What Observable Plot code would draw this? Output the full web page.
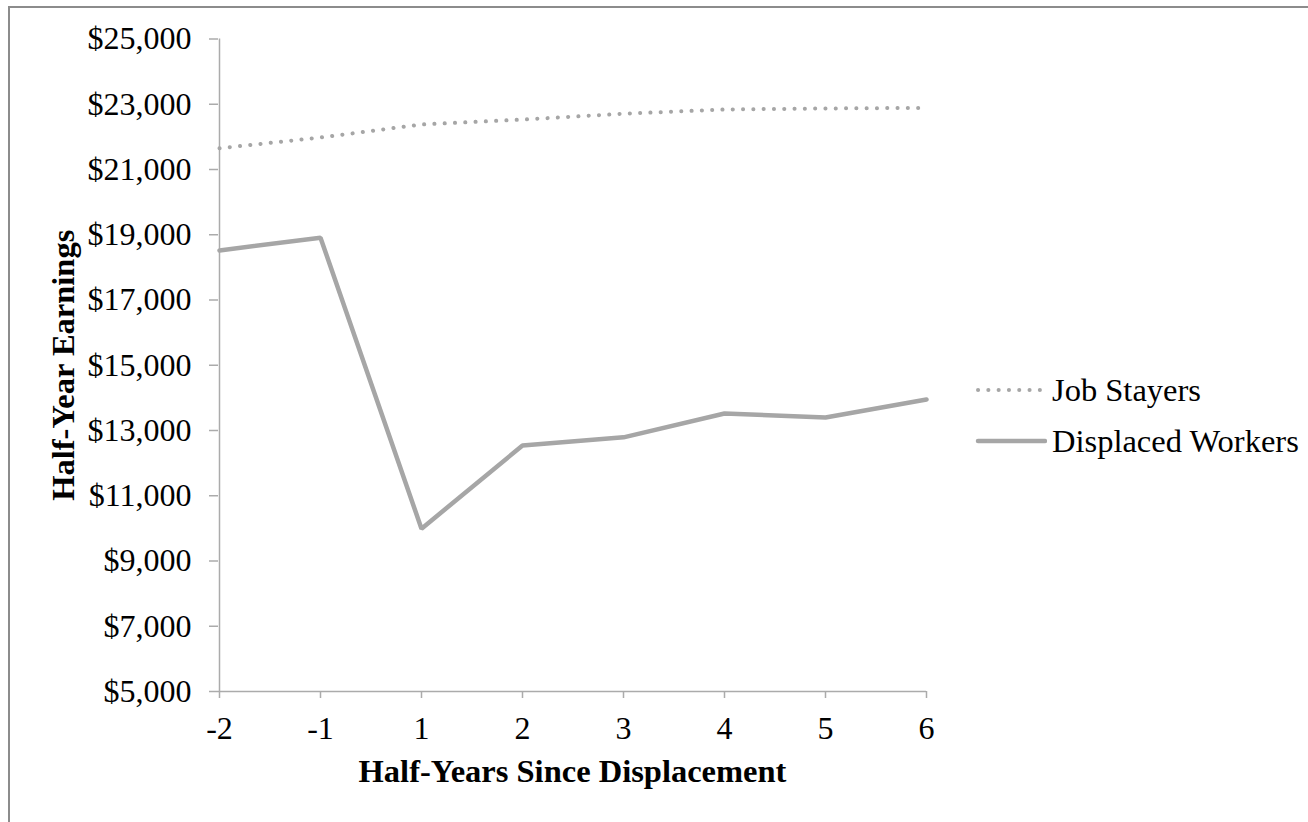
<!DOCTYPE html>
<html>
<head>
<meta charset="utf-8">
<script src="https://cdn.jsdelivr.net/npm/d3@7"></script>
<script src="https://cdn.jsdelivr.net/npm/@observablehq/plot@0.6"></script>
<style>
  html, body { margin: 0; padding: 0; background: #fff; width: 1308px; height: 822px; overflow: hidden; }
  #frame { position: absolute; left: 8px; top: 6px; width: 1400px; height: 900px;
           border-top: 2px solid #8c8c8c; border-left: 2px solid #8c8c8c; }
  #chart { position: absolute; left: 0; top: 0; }
  .legend { position: absolute; left: 975px; font-family: "Liberation Serif", serif; font-size: 32.5px; color: #000; }
  .item { position: absolute; left: 0; white-space: nowrap; display: flex; align-items: center; height: 40px; }
  .item svg { margin-right: 5px; }
</style>
</head>
<body>
<div id="frame"></div>
<div id="chart"></div>
<div class="legend" id="legend"></div>
<script>
const periods = ["-2", "-1", "1", "2", "3", "4", "5", "6"];
const jobStayers = [21650, 21980, 22380, 22530, 22710, 22840, 22870, 22890];
const displacedWorkers = [18520, 18910, 9990, 12540, 12790, 13520, 13400, 13950];
const yTicks = [5000, 7000, 9000, 11000, 13000, 15000, 17000, 19000, 21000, 23000, 25000];
const seriesNames = ["Job Stayers", "Displaced Workers"];

const gray = "#a6a6a6";
const axisGray = "#ababab";

const stayersData = periods.map((p, i) => ({period: p, value: jobStayers[i]}));
const displacedData = periods.map((p, i) => ({period: p, value: displacedWorkers[i]}));

const chart = Plot.plot({
  width: 1308,
  height: 822,
  marginLeft: 218,
  marginRight: 382,
  marginTop: 38.5,
  marginBottom: 131,
  style: {fontFamily: "Liberation Serif, serif", fontSize: "32px", color: "#000", background: "transparent"},
  x: {type: "point", domain: periods, padding: 0},
  y: {domain: [5000, 25000]},
  marks: [
    Plot.ruleX([periods[0]], {stroke: axisGray, strokeWidth: 1.5}),
    Plot.ruleY([5000], {stroke: axisGray, strokeWidth: 1.5}),
    Plot.axisY({ticks: yTicks, tickFormat: d3.format("$,"), tickSize: 9, tickPadding: 18, stroke: axisGray, strokeWidth: 1.5, fill: "#000", fontSize: 32, label: null}),
    Plot.axisX({tickSize: 7, tickPadding: 18, stroke: axisGray, strokeWidth: 1.5, fill: "#000", fontSize: 32, label: null}),
    Plot.text(["Half-Years Since Displacement"], {frameAnchor: "bottom", dy: 90, fontWeight: "bold", fontSize: 32.5, fill: "#000"}),
    Plot.text(["Half-Year Earnings"], {frameAnchor: "left", textAnchor: "middle", rotate: -90, dx: -155, fontWeight: "bold", fontSize: 32.5, fill: "#000"}),
    Plot.line(stayersData, {x: "period", y: "value", stroke: gray, strokeWidth: 4, strokeDasharray: "0.1 10.2", strokeLinecap: "round"}),
    Plot.line(displacedData, {x: "period", y: "value", stroke: gray, strokeWidth: 4.5, strokeLinejoin: "miter"})
  ]
});
document.getElementById("chart").appendChild(chart);

const legend = document.getElementById("legend");
const tops = [370, 421];
seriesNames.forEach((name, i) => {
  const item = document.createElement("div");
  item.className = "item";
  item.style.top = tops[i] + "px";
  const dotted = i === 0;
  item.innerHTML = `<svg width="72" height="10"><line x1="3" x2="${dotted ? 66 : 70}" y1="5" y2="5" stroke="${gray}" stroke-width="${dotted ? 4 : 4.5}" ${dotted ? 'stroke-dasharray="0.1 10.2" stroke-linecap="round"' : 'stroke-linecap="round"'}/></svg><span>${name}</span>`;
  legend.appendChild(item);
});
</script>
</body>
</html>
